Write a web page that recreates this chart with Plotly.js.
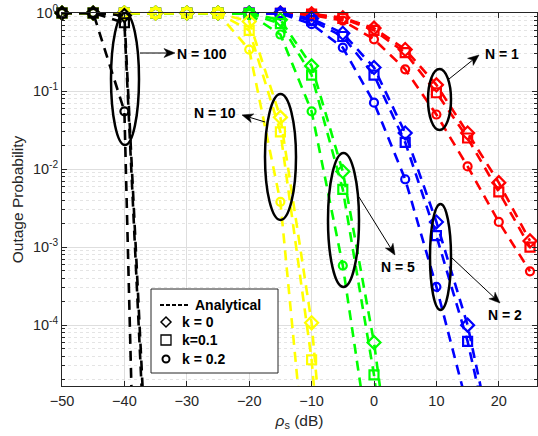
<!DOCTYPE html>
<html><head><meta charset="utf-8">
<script src="https://cdn.plot.ly/plotly-3.0.1.min.js"></script>
<style>html,body{margin:0;padding:0;background:#fff}#chart{width:538px;height:436px}</style>
</head><body><div id="chart"></div>
<script>
// ---- data ----
const snr = [-50,-45,-40,-35,-30,-25,-20,-15,-10,-5,0,5,10,15,20,25];
// N = 1 (red)
const n1_k0 = [1,1,1,1,1,1,1,0.995,0.975,0.87,0.64,0.34,0.12,0.029,0.0067,0.0012];
const n1_k1 = [1,1,1,1,1,1,1,0.993,0.965,0.85,0.60,0.31,0.095,0.025,0.0051,0.0010];
const n1_k2 = [1,1,1,1,1,1,0.998,0.99,0.94,0.80,0.46,0.19,0.050,0.0108,0.0021,0.00049];
// N = 2 (blue)
const n2_k0 = [1,1,1,1,1,1,1,0.995,0.85,0.55,0.20,0.029,0.0021,1.0e-4,1.3e-6,null];
const n2_k1 = [1,1,1,1,1,1,1,0.993,0.80,0.50,0.16,0.022,0.0014,6.2e-5,1.0e-6,null];
const n2_k2 = [1,1,1,1,1,1,1,0.99,0.72,0.36,0.071,0.0074,3.1e-4,8.9e-6,null,null];
// N = 5 (green)
const n5_k0 = [1,1,1,1,1,1,0.99,0.82,0.21,0.0093,6.0e-5,6.3e-8,null,null,null,null];
const n5_k1 = [1,1,1,1,1,1,0.985,0.73,0.16,0.0055,2.3e-5,1.6e-8,null,null,null,null];
const n5_k2 = [1,1,1,1,1,0.998,0.97,0.53,0.055,5.8e-4,1.15e-6,1e-9,null,null,null,null];
// N = 10 (yellow)
const n10_k0 = [1,1,1,1,1,0.999,0.78,0.046,1.07e-4,3.2e-9,null,null,null,null,null,null];
const n10_k1 = [1,1,1,1,1,0.998,0.60,0.030,3.6e-5,1.0e-9,null,null,null,null,null,null];
const n10_k2 = [1,1,1,1,1,0.99,0.34,0.0038,2.5e-7,null,null,null,null,null,null,null];
// N = 100 (black)
const n100_k0 = [1,1,0.93,6.3e-9,null,null,null,null,null,null,null,null,null,null,null,null];
const n100_k1 = [1,1,0.75,2.5e-9,null,null,null,null,null,null,null,null,null,null,null,null];
const n100_k2 = [1,1,0.055,1e-17,null,null,null,null,null,null,null,null,null,null,null,null];

const groupNames = ['N = 1','N = 2','N = 5','N = 10','N = 100'];
const groupColors = ['#ff0000','#0000ff','#00ff00','#ffff00','#000000'];
const groupData = [[n1_k0,n1_k1,n1_k2],[n2_k0,n2_k1,n2_k2],[n5_k0,n5_k1,n5_k2],[n10_k0,n10_k1,n10_k2],[n100_k0,n100_k1,n100_k2]];
const kLabels = ['k = 0','k=0.1','k = 0.2'];
const kSymbols = ['diamond-open','square-open','circle-open'];
const kSizes = [10,9,8];

const xTicks = [-50,-40,-30,-20,-10,0,10,20];
const yTicks = [1e-4,1e-3,1e-2,1e-1,1];
const yTickText = ['10<sup>-4</sup>','10<sup>-3</sup>','10<sup>-2</sup>','10<sup>-1</sup>','10<sup>0</sup>'];

const yMinLog = -4.78;
const traces = [];
groupData.forEach((g,gi)=>{
  g.forEach((vals,ki)=>{
    traces.push({x:snr, y:vals, type:'scatter', mode:'lines', name:groupNames[gi]+', '+kLabels[ki]+' (analytical)',
      line:{color:groupColors[gi], width:2.6, dash:'10px,7px'}, connectgaps:false, hoverinfo:'skip'});
    const mx=[], my=[];
    vals.forEach((v,i)=>{ if(v!==null && Math.log10(v)>=yMinLog){ mx.push(snr[i]); my.push(v);} });
    traces.push({x:mx, y:my, type:'scatter', mode:'markers', name:groupNames[gi]+', '+kLabels[ki],
      cliponaxis:false,
      marker:{symbol:kSymbols[ki], size:kSizes[ki], color:groupColors[gi], line:{color:groupColors[gi], width:2.2}}});
  });
});

// minor log ticks
const minorVals=[];
for(let e=-5;e<0;e++){ for(let m=2;m<=9;m++){ minorVals.push(m*Math.pow(10,e)); } }

// pixel -> paper helpers for the annotation layer
const L=62, T=13, W=475, H=373;
const px = x => (x-L)/W;
const py = y => (T+H-y)/H;

const ellipses = [[125,79,14,66],[280.5,157,15.5,63],[343.5,220,15.5,67],[440.5,257,10.5,53],[439.5,99.5,11.5,30.5]];
const shapes = ellipses.map(e=>({type:'circle', xref:'paper', yref:'paper', x0:px(e[0]-e[2]), x1:px(e[0]+e[2]), y0:py(e[1]+e[3]), y1:py(e[1]-e[3]), line:{color:'#000', width:2.5}, layer:'above'}));

// arrows drawn as shapes: [tailX, tailY, headX, headY]
const arrows = [[140,53,175,53],[265,122,242,115],[359,197,395,255],[452,258,500,303],[449,79,479,55]];
arrows.forEach(a=>{
  const dx=a[2]-a[0], dy=a[3]-a[1], len=Math.hypot(dx,dy), ux=dx/len, uy=dy/len;
  const hl=11, hw=4.5, notch=8;
  shapes.push({type:'line', xref:'paper', yref:'paper', x0:px(a[0]), y0:py(a[1]), x1:px(a[2]-ux*notch), y1:py(a[3]-uy*notch), line:{color:'#000', width:1}, layer:'above'});
  const pts = [[0,0],[-ux*hl - uy*hw, -uy*hl + ux*hw],[-ux*notch, -uy*notch],[-ux*hl + uy*hw, -uy*hl - ux*hw]];
  const path = 'M '+pts.map(p=>p[0].toFixed(2)+' '+(-p[1]).toFixed(2)).join(' L ')+' Z';
  shapes.push({type:'path', xref:'paper', yref:'paper', xsizemode:'pixel', ysizemode:'pixel', xanchor:px(a[2]), yanchor:py(a[3]), path:path, fillcolor:'#000', line:{color:'#000', width:0.5}, layer:'above'});
});

// legend box
shapes.push({type:'rect', xref:'paper', yref:'paper', x0:px(151), x1:px(278), y0:py(373), y1:py(289), line:{color:'#262626', width:1}, fillcolor:'#fff', layer:'above'});
shapes.push({type:'line', xref:'paper', yref:'paper', x0:px(160), x1:px(190), y0:py(305), y1:py(305), line:{color:'#000', width:2, dash:'4px,2px'}, layer:'above'});
shapes.push({type:'path', xref:'paper', yref:'paper', xsizemode:'pixel', ysizemode:'pixel', xanchor:px(166), yanchor:py(322), path:'M -5 0 L 0 5 L 5 0 L 0 -5 Z', line:{color:'#000', width:1.5}, layer:'above'});
shapes.push({type:'rect', xref:'paper', yref:'paper', xsizemode:'pixel', ysizemode:'pixel', xanchor:px(166), yanchor:py(340), x0:-5, x1:5, y0:-5, y1:5, line:{color:'#000', width:1.3}, layer:'above'});
shapes.push({type:'circle', xref:'paper', yref:'paper', xsizemode:'pixel', ysizemode:'pixel', xanchor:px(166), yanchor:py(359), x0:-3.5, x1:3.5, y0:-3.5, y1:3.5, line:{color:'#000', width:2}, layer:'above'});

const bold = {family:'"Liberation Sans", Arial, sans-serif', size:14, color:'#000'};
const annotations = [];
// labels: [text, centerX, centerY]
const labels = [['N = 100',202,54],['N = 10',215,113],['N = 5',398,267],['N = 2',504.5,315],['N = 1',501.5,54]];
labels.forEach(l=>annotations.push({xref:'paper', yref:'paper', x:px(l[1]), y:py(l[2]), text:'<b>'+l[0]+'</b>', showarrow:false, xanchor:'center', yanchor:'middle', font:bold}));
// legend texts
const legTexts = [['Analytical',193,305],['k = 0',180,322],['k=0.1',180,340],['k = 0.2',180,359]];
legTexts.forEach(l=>annotations.push({xref:'paper', yref:'paper', x:px(l[1]), y:py(l[2]), text:'<b>'+l[0]+'</b>', showarrow:false, xanchor:'left', yanchor:'middle', font:bold}));

const axisColor = '#262626';
const layout = {
  width:538, height:436,
  margin:{l:L, r:538-L-W, t:T, b:436-T-H},
  paper_bgcolor:'#fff', plot_bgcolor:'#fff',
  showlegend:false,
  font:{family:'"Liberation Sans", Arial, sans-serif', size:14, color:axisColor},
  xaxis:{range:[-50,-50+W/6.24], tickmode:'array', tickvals:xTicks, ticks:'inside', ticklen:5, tickcolor:axisColor,
    showline:true, linecolor:axisColor, linewidth:1, mirror:'ticks', showgrid:true, gridcolor:'#dedede', gridwidth:1, zeroline:false,
    tickfont:{size:14.5, color:axisColor}, ticklabelstandoff:2,
    title:{text:'<i>ρ</i><sub>s</sub> (dB)', font:{size:15.5, color:axisColor}, standoff:6}},
  yaxis:{type:'log', range:[yMinLog,0], tickmode:'array', tickvals:yTicks, ticktext:yTickText, ticks:'inside', ticklen:5, tickcolor:axisColor,
    showline:true, linecolor:axisColor, linewidth:1, mirror:'ticks', showgrid:true, gridcolor:'#dedede', gridwidth:1, zeroline:false,
    tickfont:{size:14.5, color:axisColor},
    minor:{tickmode:'array', tickvals:minorVals, ticks:'inside', ticklen:3, tickcolor:axisColor, showgrid:true, gridcolor:'#e4e4e4', griddash:'dot', gridwidth:1},
    title:{text:'Outage Probability', font:{size:15.5, color:axisColor}, standoff:5}},
  shapes:shapes,
  annotations:annotations
};
Plotly.newPlot('chart', traces, layout, {displayModeBar:false, staticPlot:true});
</script>
</body></html>
